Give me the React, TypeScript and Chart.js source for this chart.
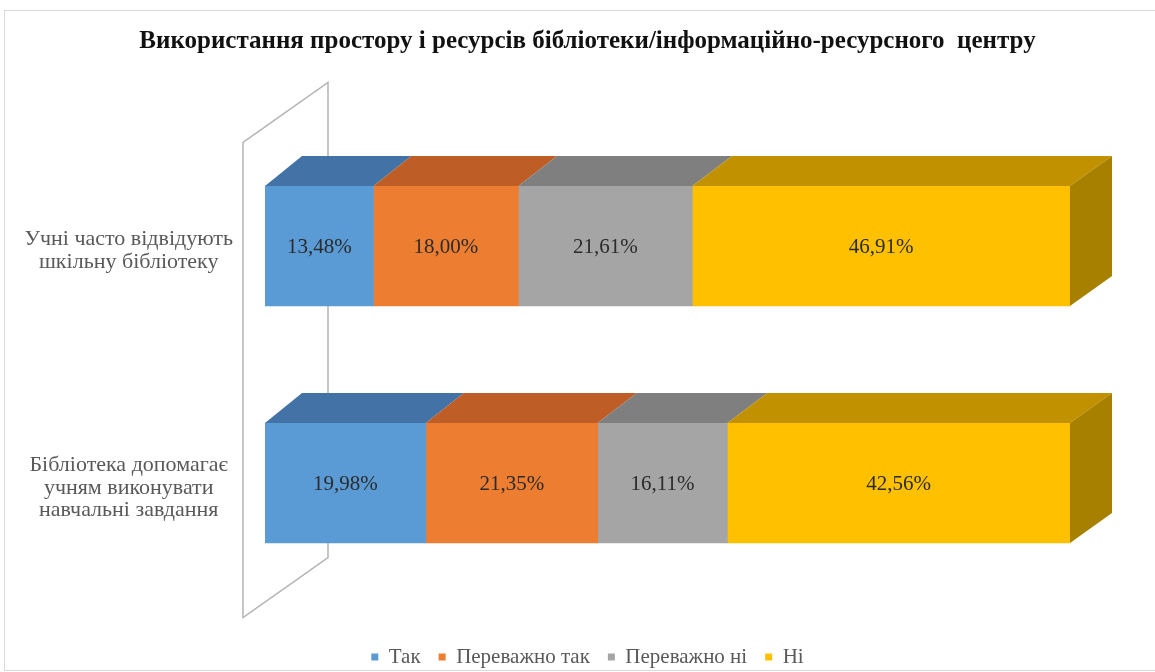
import React, { useEffect, useRef } from 'react';
import { Chart, registerables } from 'chart.js';

Chart.register(...registerables);

// ---- data ----
const TITLE = 'Використання простору і ресурсів бібліотеки/інформаційно-ресурсного  центру';
const CATEGORIES: string[][] = [
  ['Учні часто відвідують', 'шкільну бібліотеку'],
  ['Бібліотека допомагає', 'учням виконувати', 'навчальні завдання'],
];
const SERIES_NAMES = ['Так', 'Переважно так', 'Переважно ні', 'Ні'];
const TAK = [13.48, 19.98];
const MOSTLY_YES = [18.0, 21.35];
const MOSTLY_NO = [21.61, 16.11];
const NI = [46.91, 42.56];
const SERIES_VALUES = [TAK, MOSTLY_YES, MOSTLY_NO, NI];

// ---- styles ----
const FRONT_COLORS = ['#5B9BD5', '#ED7D31', '#A5A5A5', '#FFC000'];
const TOP_COLORS = ['#4373A6', '#BE5D25', '#7F7F7F', '#C19100'];
const SIDE_COLORS = ['#3A6590', '#A4501F', '#6E6E6E', '#A88000'];
const SERIF = "'Liberation Serif', 'Times New Roman', serif";

const DEPTH_DY = -30;
const DEPTH_DX_LEFT = 37;
const DEPTH_DX_RIGHT = 42;
const LEGEND_SHIFT = 5.5;

const fmt = (v: number) => v.toFixed(2).replace('.', ',') + '%';

const bar3dPlugin = {
  id: 'bar3d',
  beforeDraw(chart: any) {
    const { ctx, width, height } = chart;
    ctx.save();
    ctx.fillStyle = '#ffffff';
    ctx.fillRect(0, 0, width, height);
    ctx.strokeStyle = '#D9D9D9';
    ctx.lineWidth = 1;
    ctx.strokeRect(4.5, 10.5, width + 20, height - 12);
    ctx.restore();
  },
  afterLayout(chart: any) {
    const lg = chart.legend;
    if (lg) {
      lg.top += LEGEND_SHIFT;
      lg.bottom += LEGEND_SHIFT;
    }
  },
  beforeDatasetsDraw(chart: any) {
    const { ctx, chartArea } = chart;
    const fx = chartArea.left - 22;
    const bx = fx + 85;
    const fTop = chartArea.top + 15;
    const fBot = chartArea.bottom + 16;
    ctx.save();
    ctx.strokeStyle = '#B4B4B4';
    ctx.lineWidth = 1.5;
    ctx.beginPath();
    ctx.moveTo(fx, fBot);
    ctx.lineTo(fx, fTop);
    ctx.lineTo(bx, fTop - 60);
    ctx.lineTo(bx, fBot - 60);
    ctx.closePath();
    ctx.stroke();
    ctx.restore();
  },
  afterDatasetsDraw(chart: any) {
    const { ctx, chartArea } = chart;
    const span = chartArea.right - chartArea.left;
    const dxAt = (x: number) => DEPTH_DX_LEFT + ((DEPTH_DX_RIGHT - DEPTH_DX_LEFT) * (x - chartArea.left)) / span;
    const nSets = chart.data.datasets.length;
    ctx.save();
    for (let i = 0; i < nSets; i++) {
      const meta = chart.getDatasetMeta(i);
      meta.data.forEach((bar: any) => {
        const p = bar.getProps(['x', 'y', 'base', 'height'], true);
        const l = Math.min(p.x, p.base);
        const r = Math.max(p.x, p.base);
        const t = p.y - p.height / 2;
        const b = p.y + p.height / 2;
        ctx.fillStyle = TOP_COLORS[i];
        ctx.beginPath();
        ctx.moveTo(l, t);
        ctx.lineTo(r, t);
        ctx.lineTo(r + dxAt(r), t + DEPTH_DY);
        ctx.lineTo(l + dxAt(l), t + DEPTH_DY);
        ctx.closePath();
        ctx.fill();
        if (i === nSets - 1) {
          ctx.fillStyle = SIDE_COLORS[i];
          ctx.beginPath();
          ctx.moveTo(r, t);
          ctx.lineTo(r + dxAt(r), t + DEPTH_DY);
          ctx.lineTo(r + dxAt(r), b + DEPTH_DY);
          ctx.lineTo(r, b);
          ctx.closePath();
          ctx.fill();
        }
      });
    }
    ctx.font = `21px ${SERIF}`;
    ctx.fillStyle = '#2B2B2B';
    ctx.textAlign = 'center';
    ctx.textBaseline = 'middle';
    for (let i = 0; i < nSets; i++) {
      const meta = chart.getDatasetMeta(i);
      meta.data.forEach((bar: any, j: number) => {
        const p = bar.getProps(['x', 'y', 'base'], true);
        const v = chart.data.datasets[i].data[j] as number;
        ctx.fillText(fmt(v), (p.x + p.base) / 2, p.y + 1);
      });
    }
    ctx.restore();
  },
};

export default function App() {
  const ref = useRef<HTMLCanvasElement>(null);
  useEffect(() => {
    const canvas = ref.current;
    if (!canvas) return;
    const chart = new Chart(canvas, {
      type: 'bar',
      data: {
        labels: CATEGORIES,
        datasets: SERIES_NAMES.map((name, i) => ({
          label: name,
          data: SERIES_VALUES[i],
          backgroundColor: FRONT_COLORS[i],
          borderWidth: 0,
          barThickness: 120,
        })),
      },
      options: {
        indexAxis: 'y',
        responsive: false,
        animation: false,
        devicePixelRatio: 1,
        layout: { padding: { left: 20, right: 0, top: 0, bottom: 0 } },
        scales: {
          x: {
            stacked: true,
            min: 0,
            max: 100,
            grid: { display: false, drawTicks: false },
            border: { display: false },
            ticks: { display: false },
            afterFit: (s: any) => { s.height = 21.5; },
          },
          y: {
            stacked: true,
            grid: { display: false, drawTicks: false },
            border: { display: false },
            ticks: {
              crossAlign: 'center',
              padding: 32,
              labelOffset: 5,
              color: '#595959',
              font: { family: SERIF, size: 22, lineHeight: 1.03 },
            },
            afterFit: (s: any) => { s.width = 245; },
          },
          yRight: {
            type: 'linear',
            axis: 'y',
            position: 'right',
            grid: { display: false, drawTicks: false },
            border: { display: false },
            ticks: { display: false },
            afterFit: (s: any) => { s.width = 85; },
          },
        },
        plugins: {
          title: {
            display: true,
            text: TITLE,
            color: '#111111',
            font: { family: SERIF, size: 25, weight: 'bold', lineHeight: 1.2 },
            padding: { top: 27, bottom: 70.5 },
          },
          legend: {
            position: 'bottom',
            labels: {
              boxWidth: 7,
              boxHeight: 7,
              padding: 18,
              color: '#595959',
              font: { family: SERIF, size: 21 },
            },
          },
          tooltip: { enabled: false },
        },
      },
      plugins: [bar3dPlugin],
    } as any);
    return () => chart.destroy();
  }, []);
  return (
    <div style={{ position: 'absolute', left: 0, top: 0, width: 1155, height: 672 }}>
      <canvas ref={ref} width={1155} height={672} style={{ display: 'block' }} />
    </div>
  );
}
